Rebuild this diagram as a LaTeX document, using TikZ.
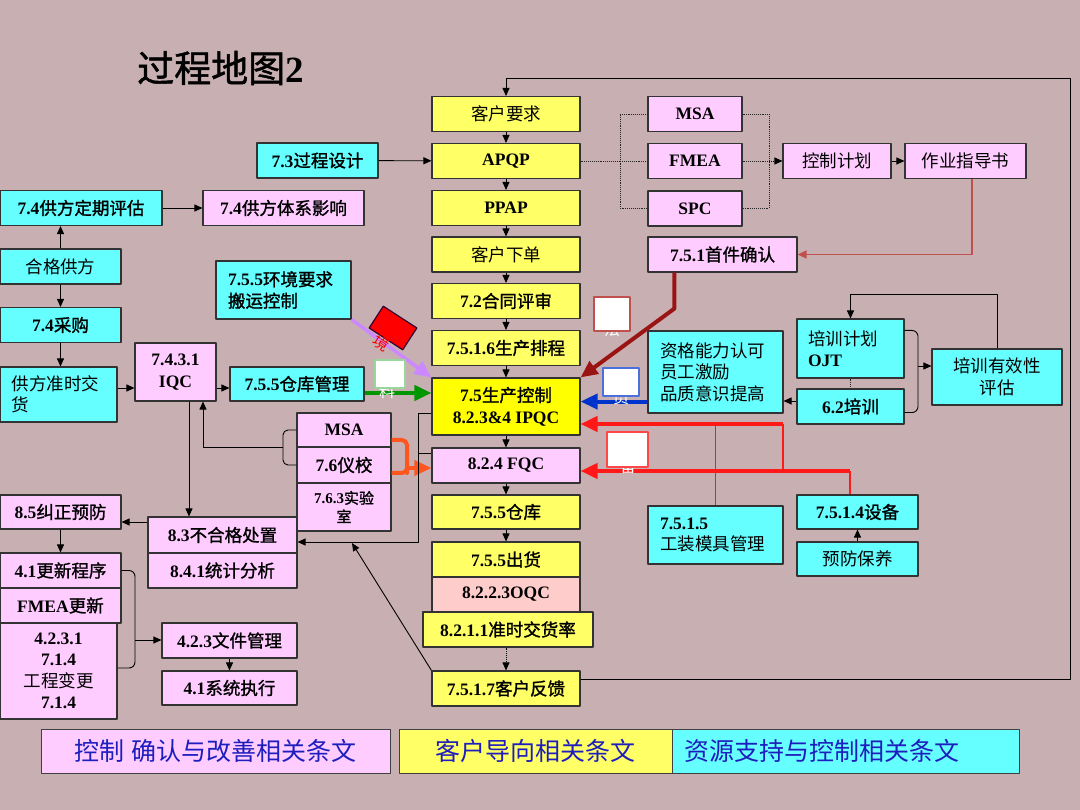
\documentclass[tikz,border=0pt]{standalone}
\usepackage{fontspec}
\setmainfont{Liberation Serif}
\newfontfamily\cjkfont{Noto Sans CJK SC}[BoldFont={Noto Sans CJK SC},BoldFeatures={FakeBold=1.3}]
\usetikzlibrary{arrows.meta,calc}

% Han characters switch to the CJK family by themselves
\XeTeXinterchartokenstate=1
\newXeTeXintercharclass\hanclass
\count255="4E00
\loop
  \XeTeXcharclass\count255=\hanclass
  \advance\count255 by 1
\ifnum\count255<"A000 \repeat
\XeTeXinterchartoks 0 \hanclass={\begingroup\cjkfont}
\XeTeXinterchartoks 4095 \hanclass={\begingroup\cjkfont}
\XeTeXinterchartoks \hanclass 0={\endgroup}
\XeTeXinterchartoks \hanclass 4095={\endgroup}

\definecolor{bgpaper}{RGB}{200,176,178}
\definecolor{cyanfill}{RGB}{102,255,255}
\definecolor{pinkfill}{RGB}{255,204,255}
\definecolor{yellowfill}{RGB}{255,255,102}
\definecolor{prodyellow}{RGB}{255,255,0}
\definecolor{oqcfill}{RGB}{255,204,204}
\definecolor{legendblue}{RGB}{30,30,190}
\definecolor{rustred}{RGB}{192,80,77}
\definecolor{darkredline}{RGB}{155,20,20}
\definecolor{violetline}{RGB}{204,136,255}
\definecolor{greenline}{RGB}{0,150,0}
\definecolor{blueline}{RGB}{0,51,204}
\definecolor{redline}{RGB}{255,25,25}
\definecolor{orangeline}{RGB}{255,85,30}

\begin{document}
\begin{tikzpicture}[
  x=1pt, y=-1pt,
  line join=round,
  box/.style={draw=black!80, line width=1.1pt, minimum height=35pt, inner sep=1pt, align=center,
    font=\fontsize{17.5}{21.5}\selectfont\bfseries},
  cyanbox/.style={box, fill=cyanfill},
  pinkbox/.style={box, fill=pinkfill},
  yellowbox/.style={box, fill=yellowfill},
  normalw/.style={font=\fontsize{17.5}{21.5}\selectfont},
  smalltext/.style={font=\fontsize{15}{18.5}\selectfont\bfseries},
  heading/.style={font=\fontsize{37}{40}\selectfont\bfseries, inner sep=0pt},
  legendbox/.style={draw=black!75, line width=1pt, minimum height=44pt, inner sep=1pt,
    font=\fontsize{25}{28}\selectfont, text=legendblue},
  tagbox/.style={fill=white, line width=1.2pt, inner sep=0pt},
  tagtext/.style={text=white, font=\fontsize{16}{16}\selectfont, inner sep=0pt},
  link/.style={draw=black, line width=0.9pt},
  arr/.style={link, -{Triangle[length=8pt,width=7pt]}},
  dots/.style={draw=black!85, line width=0.9pt, densely dotted},
  fat/.style={line width=4pt, -{Triangle[length=17pt,width=15pt]}},
  redthin/.style={draw=redline, line width=1.6pt}
]

\def\colx{506}
\def\colw{148pt}

\useasboundingbox (0,0) rectangle (1080,810);
\fill[bgpaper] (0,0) rectangle (1080,810);

\node[heading, anchor=west] (title) at (137,68) {过程地图2};

% Customer-oriented main column
\node[yellowbox, normalw, minimum width=\colw] (cust) at (\colx,114) {客户要求};
\node[yellowbox, minimum width=\colw] (apqp) at (\colx,161) {APQP};
\node[yellowbox, minimum width=\colw] (ppap) at (\colx,208) {PPAP};
\node[yellowbox, normalw, minimum width=\colw] (order) at (\colx,254.5) {客户下单};
\node[yellowbox, minimum width=\colw] (contract) at (\colx,301) {7.2合同评审};
\node[yellowbox, minimum width=\colw] (sched) at (\colx,348) {7.5.1.6生产排程};
\node[yellowbox, fill=prodyellow, minimum width=\colw, minimum height=57pt] (prod) at (\colx,406.5) {7.5生产控制\\8.2.3\&4 IPQC};
\node[pinkbox, minimum width=\colw] (fqc) at (\colx,465.5) {8.2.4 FQC};
\node[yellowbox, minimum width=\colw, minimum height=34pt] (store) at (\colx,512) {7.5.5仓库};
\node[yellowbox, minimum width=\colw] (ship) at (\colx,559.5) {7.5.5出货};
\node[yellowbox, fill=oqcfill, minimum width=\colw] (oqc) at (\colx,594.5) {8.2.2.3OQC};
\node[yellowbox, minimum width=170pt] (otd) at (508,629.5) {8.2.1.1准时交货率};
\node[yellowbox, minimum width=\colw] (fb) at (\colx,688.5) {7.5.1.7客户反馈};

% APQP tools
\node[pinkbox, minimum width=94pt] (msat) at (695,114) {MSA};
\node[pinkbox, minimum width=94pt] (fmeat) at (695,161) {FMEA};
\node[pinkbox, minimum width=94pt] (spct) at (695,208.5) {SPC};
\node[pinkbox, minimum width=149pt] (fai) at (722.5,254.5) {7.5.1首件确认};
\node[pinkbox, normalw, minimum width=108pt] (cp) at (837,161) {控制计划};
\node[pinkbox, normalw, minimum width=121pt] (wi) at (965.5,161) {作业指导书};
\node[cyanbox, minimum width=121pt] (design) at (317.5,160.5) {7.3过程设计};

% Supplier side
\node[cyanbox, minimum width=162pt] (supeval) at (81,208) {7.4供方定期评估};
\node[pinkbox, minimum width=161pt] (supsys) at (283.5,208) {7.4供方体系影响};
\node[cyanbox, normalw, minimum width=121pt] (qualsup) at (60.5,266.5) {合格供方};
\node[cyanbox, minimum width=121pt] (purch) at (60.5,325) {7.4采购};
\node[cyanbox, normalw, text width=93pt, inner xsep=12pt, minimum height=55pt, align=left] (ontime) at (58.5,394.5) {供方准时交\\货};
\node[pinkbox, minimum width=81pt, minimum height=58pt] (iqc) at (175.5,372) {7.4.3.1\\IQC};
\node[cyanbox, minimum width=134pt, minimum height=34pt] (whm) at (297,384) {7.5.5仓库管理};
\node[cyanbox, text width=111pt, inner xsep=12pt, minimum height=58pt, align=left] (env) at (283.5,290) {7.5.5环境要求\\搬运控制};

% Measurement, nonconformity, documents
\node[pinkbox, minimum width=94pt, minimum height=34pt] (msal) at (344,430) {MSA};
\node[pinkbox, minimum width=94pt, minimum height=36pt] (calib) at (344,465) {7.6仪校};
\node[pinkbox, smalltext, minimum width=94pt, minimum height=48pt] (lab) at (344,507) {7.6.3实验\\室};
\node[pinkbox, minimum width=149pt, minimum height=36pt] (ncr) at (222.5,535) {8.3不合格处置};
\node[pinkbox, minimum width=149pt] (stat) at (222.5,570.5) {8.4.1统计分析};
\node[pinkbox, minimum width=121pt, minimum height=34pt] (capa) at (60.5,512) {8.5纠正预防};
\node[pinkbox, minimum width=121pt] (updproc) at (60.5,570.5) {4.1更新程序};
\node[pinkbox, minimum width=121pt] (fmeaupd) at (60.5,605.5) {FMEA更新};
\node[pinkbox, minimum width=117pt, minimum height=96pt] (eng) at (58.5,671) {4.2.3.1\\7.1.4\\{\mdseries 工程变更}\\7.1.4};
\node[pinkbox, minimum width=135pt] (doc) at (229.5,640.5) {4.2.3文件管理};
\node[pinkbox, minimum width=135pt, minimum height=34pt] (sysexec) at (229.5,688) {4.1系统执行};

% Resources
\node[cyanbox, normalw, text width=111pt, inner xsep=12pt, minimum height=82pt, align=left] (qual) at (715.5,372) {资格能力认可\\员工激励\\品质意识提高};
\node[cyanbox, normalw, text width=85pt, inner xsep=11pt, minimum height=59pt, align=left] (plan) at (850.5,348.5) {培训计划\\\textbf{OJT}};
\node[cyanbox, minimum width=107pt] (train) at (850.5,406.5) {6.2培训};
\node[cyanbox, normalw, minimum width=130pt, minimum height=56pt] (eff) at (997,377) {培训有效性\\评估};
\node[cyanbox, normalw, text width=111pt, inner xsep=12pt, minimum height=58pt, align=left] (tool) at (715.5,535) {\textbf{7.5.1.5}\\工装模具管理};
\node[cyanbox, minimum width=121pt, minimum height=34pt] (equip) at (857.5,512) {7.5.1.4设备};
\node[cyanbox, normalw, minimum width=121pt, minimum height=34pt] (pm) at (857.5,559) {预防保养};

% Legend
\node[legendbox, fill=pinkfill, minimum width=349pt] (lgctrl) at (215.5,751) {控制 确认与改善相关条文};
\node[legendbox, fill=yellowfill, minimum width=273pt] (lgcust) at (535.5,751) {客户导向相关条文};
\node[legendbox, fill=cyanfill, text width=323pt, inner xsep=12pt, align=left] (lgres) at (846,751) {资源支持与控制相关条文};

% Feedback loop back to the customer
\coordinate (loopR) at (1070,78);
\draw[arr] ($(fb.east)+(0,-9.5)$) -| (loopR) -| (cust.north);

% Main column flow
\foreach \a/\b in {cust/apqp, apqp/ppap, ppap/order, order/contract, contract/sched,
                   sched/prod, prod/fqc, fqc/store, store/ship}
  \draw[arr] (\a) -- (\b);
\draw[arr, densely dotted] (fb.north |- otd.south) -- (fb.north);
\draw[arr] (design) -- (apqp);

% APQP tools (dotted)
\coordinate (toolsL) at (620,161);
\coordinate (toolsR) at (769,161);
\draw[dots] (apqp.east) -- (fmeat.west);
\draw[dots] (msat.west) -| (toolsL) |- (spct.west);
\draw[dots] (msat.east) -| (toolsR) |- (spct.east);
\draw[dots] (fmeat.east) -- (toolsR);
\draw[arr, densely dotted] (toolsR) -- (cp.west);
\draw[arr] (cp) -- (wi);
\draw[draw=rustred, line width=1.3pt, -{Triangle[length=9pt,width=8pt]}] ($(wi.south)+(6.5,0)$) |- (fai.east);
\draw[fat, color=darkredline] ($(fai.south west)+(27,0)$) -- ++(0,36) -- (prod.north east);

% Inputs to production control
\draw[fat, color=violetline, line width=3.5pt] (env.south east) -- (prod.north west);
\coordinate (greenS) at ($(whm.east)+(0,9)$);
\draw[fat, color=greenline] (greenS) -- (greenS -| prod.west);
\coordinate (blueS) at ($(qual.south west)+(0,-12)$);
\draw[fat, color=blueline] (blueS) -- (blueS -| prod.east);
\coordinate (redA) at (783,424);
\coordinate (redB) at (850,471);
\draw[redthin] (redA -| tool.north) -- (tool.north);
\draw[redthin] (redA) -- (redA |- redB);
\draw[redthin] (redB) -- (redB |- equip.north);
\draw[fat, color=redline] (redA) -- (redA -| prod.east);
\draw[fat, color=redline] (redB) -- (redB -| fqc.east);
\coordinate (orangeB) at (407,468);
\draw[draw=orangeline, line width=4pt, rounded corners=5pt] ($(msal.east)+(0,10)$) -| (orangeB) |- ($(calib.east)+(0,8)$);
\draw[fat, color=orangeline, line width=3.5pt] (orangeB) -- (orangeB -| fqc.west);

% Nonconforming product
\coordinate (qcL) at (418,413);
\coordinate (fqcL) at (418,453);
\coordinate (ncrIn) at (418,542);
\draw[link] (fqcL) -- (fqcL -| fqc.west);
\draw[arr] (qcL -| prod.west) -- (qcL) -- (ncrIn) -- (ncrIn -| ncr.east);
\coordinate (fbHit) at (352,543);
\draw[arr] (fb.north west) -- (fbHit);
\coordinate (iqcDown) at ($(iqc.south)+(13.5,0)$);
\draw[arr] (iqcDown) -- (iqcDown |- ncr.north);
\coordinate (calBr) at (283,447);
\draw[link, rounded corners=5pt] (msal.west) -| (calBr) |- (calib.west);
\draw[arr] (calBr) -| ($(iqc.south)+(27.5,0)$);
\coordinate (capaRow) at (0,522);
\draw[arr] (ncr.west |- capaRow) -- (capa.east |- capaRow);
\draw[arr] (capa) -- (updproc);
\coordinate (docBr) at (135,640);
\draw[link, rounded corners=6pt] (updproc.east) -| (docBr) |- ($(eng.east)+(0,-3)$);
\draw[arr] (docBr) -- (docBr -| doc.west);
\draw[arr] (doc) -- (sysexec);

% Supplier chain
\coordinate (supRow) at (0,388);
\draw[arr] (qualsup.north) -- (qualsup.north |- supeval.south);
\draw[arr] (supeval) -- (supsys);
\draw[arr] (qualsup) -- (purch);
\draw[arr] (purch.south) -- (purch.south |- ontime.north);
\draw[arr] (ontime.east |- supRow) -- (iqc.west |- supRow);
\draw[arr] (iqc.east |- supRow) -- (whm.west |- supRow);

% Training
\draw[dots] (plan) -- (train);
\coordinate (trainRow) at (0,401);
\draw[arr] (train.west |- trainRow) -- (qual.east |- trainRow);
\coordinate (trainBr) at (918,366);
\draw[link, rounded corners=6pt] ($(plan.north east)+(0,12)$) -| (trainBr) |- ($(train.south east)+(0,-12)$);
\draw[arr] (trainBr) -- (trainBr -| eff.west);
\coordinate (effTop) at (0,294);
\draw[arr] (eff.north) -- (eff.north |- effTop) -| (plan.north);
\draw[arr] (pm) -- (equip);

% Man / machine / material / method / environment tags
\node[tagtext] (faT) at (612,329) {法};
\node[tagbox, draw=rustred, minimum width=36pt, minimum height=34pt] (fa) at (612,314) {};
\node[tagtext] (yuanT) at (621,398) {员};
\node[tagbox, draw=blueline!70, minimum width=36pt, minimum height=28pt] (yuan) at (621,382) {};
\node[tagtext] (beiT) at (628,466) {备};
\node[tagbox, draw=redline!80, minimum width=41pt, minimum height=35pt] (bei) at (627.5,449.5) {};
\node[tagtext] (liaoT) at (387,391) {料};
\node[tagbox, draw=black!40!green!40, minimum width=30pt, minimum height=28pt] (liao) at (390,374) {};
\node[tagbox, fill=red, draw=black!60!violet, rotate=-33, minimum width=40pt, minimum height=26pt] (jing) at (393,328) {};
\node[tagtext, text=red, rotate=-33] (jingT) at (382,343) {境};

\end{tikzpicture}
\end{document}
